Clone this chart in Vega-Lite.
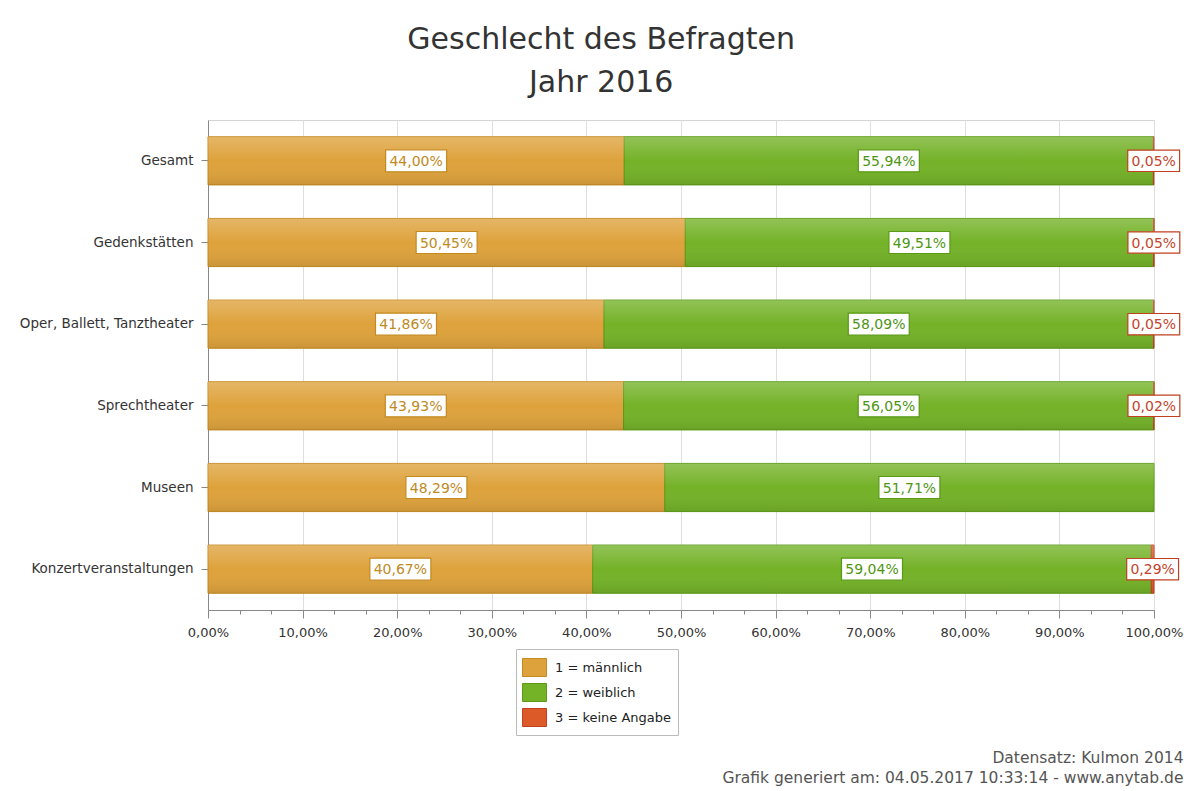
{
  "$schema": "https://vega.github.io/schema/vega-lite/v6.json",
  "autosize": {"type": "none"},
  "padding": {"left": 208, "top": 120, "right": 40, "bottom": 181},
  "width": 946,
  "height": 490,
  "background": "white",
  "title": {
    "text": ["Geschlecht des Befragten", "Jahr 2016"],
    "font": "DejaVu Sans",
    "fontSize": 30,
    "fontWeight": "normal",
    "color": "#333333",
    "lineHeight": 43,
    "anchor": "middle",
    "frame": "bounds",
    "offset": 22
  },
  "config": {
    "locale": {"number": {"decimal": ",", "thousands": ".", "grouping": [3], "currency": ["", " €"]}},
    "view": {"stroke": "#d4d4d4"},
    "font": "DejaVu Sans"
  },
  "data": {
    "values": [
      {"category": "Gesamt", "series": "1 = männlich", "value": 0.4400},
      {"category": "Gesamt", "series": "2 = weiblich", "value": 0.5594},
      {"category": "Gesamt", "series": "3 = keine Angabe", "value": 0.0005},
      {"category": "Gedenkstätten", "series": "1 = männlich", "value": 0.5045},
      {"category": "Gedenkstätten", "series": "2 = weiblich", "value": 0.4951},
      {"category": "Gedenkstätten", "series": "3 = keine Angabe", "value": 0.0005},
      {"category": "Oper, Ballett, Tanztheater", "series": "1 = männlich", "value": 0.4186},
      {"category": "Oper, Ballett, Tanztheater", "series": "2 = weiblich", "value": 0.5809},
      {"category": "Oper, Ballett, Tanztheater", "series": "3 = keine Angabe", "value": 0.0005},
      {"category": "Sprechtheater", "series": "1 = männlich", "value": 0.4393},
      {"category": "Sprechtheater", "series": "2 = weiblich", "value": 0.5605},
      {"category": "Sprechtheater", "series": "3 = keine Angabe", "value": 0.0002},
      {"category": "Museen", "series": "1 = männlich", "value": 0.4829},
      {"category": "Museen", "series": "2 = weiblich", "value": 0.5171},
      {"category": "Konzertveranstaltungen", "series": "1 = männlich", "value": 0.4067},
      {"category": "Konzertveranstaltungen", "series": "2 = weiblich", "value": 0.5904},
      {"category": "Konzertveranstaltungen", "series": "3 = keine Angabe", "value": 0.0029}
    ]
  },
  "transform": [
    {"stack": "value", "groupby": ["category"], "sort": [{"field": "series", "order": "ascending"}], "as": ["v0", "v1"]},
    {"calculate": "(datum.v0 + datum.v1) / 2", "as": "mid"}
  ],
  "resolve": {"axis": {"x": "independent"}},
  "layer": [
    {
      "mark": {"type": "bar", "strokeWidth": 1},
      "encoding": {
        "y": {
          "field": "category", "type": "nominal",
          "sort": ["Gesamt", "Gedenkstätten", "Oper, Ballett, Tanztheater", "Sprechtheater", "Museen", "Konzertveranstaltungen"],
          "scale": {"paddingInner": 0.41, "paddingOuter": 0.205},
          "axis": {
            "title": null,
            "labelFontSize": 13.5,
            "labelColor": "#333333",
            "labelPadding": 8,
            "labelLimit": 300,
            "tickSize": 7,
            "tickColor": "#888888",
            "domainColor": "#888888",
            "grid": false
          }
        },
        "x": {
          "field": "v0", "type": "quantitative",
          "scale": {"domain": [0, 1], "nice": false},
          "axis": {
            "format": ".2%",
            "values": [0, 0.1, 0.2, 0.3, 0.4, 0.5, 0.6, 0.7, 0.8, 0.9, 1],
            "labelFontSize": 13,
            "labelColor": "#333333",
            "labelPadding": 8,
            "labelFlush": false,
            "labelOverlap": false,
            "tickSize": 8,
            "tickColor": "#888888",
            "domainColor": "#888888",
            "gridColor": "#dedede",
            "title": ["Datensatz: Kulmon 2014", "Grafik generiert am: 04.05.2017 10:33:14 - www.anytab.de"],
            "titleFontSize": 15.5,
            "titleFontWeight": "normal",
            "titleColor": "#555555",
            "titleAlign": "right",
            "titleAnchor": "end",
            "titleBaseline": "middle",
            "titleLineHeight": 20,
            "titleX": 975,
            "titleY": 147
          }
        },
        "x2": {"field": "v1"},
        "color": {
          "field": "series", "type": "nominal",
          "scale": {"domain": ["1 = männlich", "2 = weiblich", "3 = keine Angabe"], "range": ["#dea23c", "#74b228", "#dc5a28"]},
          "legend": {
            "title": null,
            "orient": "none",
            "legendX": 308,
            "legendY": 529,
            "direction": "vertical",
            "symbolType": "M-1,-0.75L1,-0.75L1,0.75L-1,0.75Z",
            "symbolSize": 576,
            "symbolStrokeWidth": 1,
            "labelFontSize": 13,
            "labelColor": "#222222",
            "labelOffset": 8,
            "rowPadding": 1,
            "padding": 6,
            "strokeColor": "#bbbbbb",
            "fillColor": "white",
            "labelLimit": 200
          }
        },
        "stroke": {
          "field": "series", "type": "nominal",
          "scale": {"domain": ["1 = männlich", "2 = weiblich", "3 = keine Angabe"], "range": ["#c48a20", "#5a9a14", "#c04020"]},
          "legend": null
        }
      }
    },
    {
      "mark": {
        "type": "bar",
        "strokeWidth": 0,
        "color": {
          "gradient": "linear", "x1": 0, "y1": 0, "x2": 0, "y2": 1,
          "stops": [
            {"offset": 0, "color": "rgba(255,255,255,0.22)"},
            {"offset": 0.5, "color": "rgba(255,255,255,0)"},
            {"offset": 1, "color": "rgba(0,0,0,0.09)"}
          ]
        }
      },
      "encoding": {
        "y": {"field": "category", "type": "nominal", "sort": ["Gesamt", "Gedenkstätten", "Oper, Ballett, Tanztheater", "Sprechtheater", "Museen", "Konzertveranstaltungen"]},
        "x": {
          "field": "v0", "type": "quantitative",
          "axis": {
            "values": [0.0333, 0.0667, 0.1333, 0.1667, 0.2333, 0.2667, 0.3333, 0.3667, 0.4333, 0.4667, 0.5333, 0.5667, 0.6333, 0.6667, 0.7333, 0.7667, 0.8333, 0.8667, 0.9333, 0.9667],
            "labels": false,
            "grid": false,
            "domain": false,
            "tickSize": 4,
            "tickColor": "#888888",
            "title": null,
            "orient": "bottom"
          }
        },
        "x2": {"field": "v1"}
      }
    },
    {
      "transform": [{"filter": "datum.value > 0"}],
      "mark": {"type": "point", "filled": true, "fill": "white", "fillOpacity": 1, "opacity": 1, "strokeWidth": 1.2},
      "encoding": {
        "y": {"field": "category", "type": "nominal", "sort": ["Gesamt", "Gedenkstätten", "Oper, Ballett, Tanztheater", "Sprechtheater", "Museen", "Konzertveranstaltungen"]},
        "x": {"field": "mid", "type": "quantitative", "axis": null},
        "shape": {
          "condition": {"test": "datum.value < 0.1", "value": "M-0.85,-0.35L0.85,-0.35L0.85,0.35L-0.85,0.35Z"},
          "value": "M-1,-0.36L1,-0.36L1,0.36L-1,0.36Z"
        },
        "size": {"value": 3721},
        "stroke": {"field": "series", "type": "nominal", "legend": null}
      }
    },
    {
      "transform": [{"filter": "datum.value > 0"}],
      "mark": {"type": "text", "fontSize": 14, "align": "center", "baseline": "middle", "dy": 1},
      "encoding": {
        "y": {"field": "category", "type": "nominal", "sort": ["Gesamt", "Gedenkstätten", "Oper, Ballett, Tanztheater", "Sprechtheater", "Museen", "Konzertveranstaltungen"]},
        "x": {"field": "mid", "type": "quantitative", "axis": null},
        "text": {"field": "value", "type": "quantitative", "format": ".2%"},
        "fill": {
          "field": "series", "type": "nominal",
          "scale": {"domain": ["1 = männlich", "2 = weiblich", "3 = keine Angabe"], "range": ["#c08a24", "#4e9612", "#c4432a"]},
          "legend": null
        }
      }
    }
  ]
}
